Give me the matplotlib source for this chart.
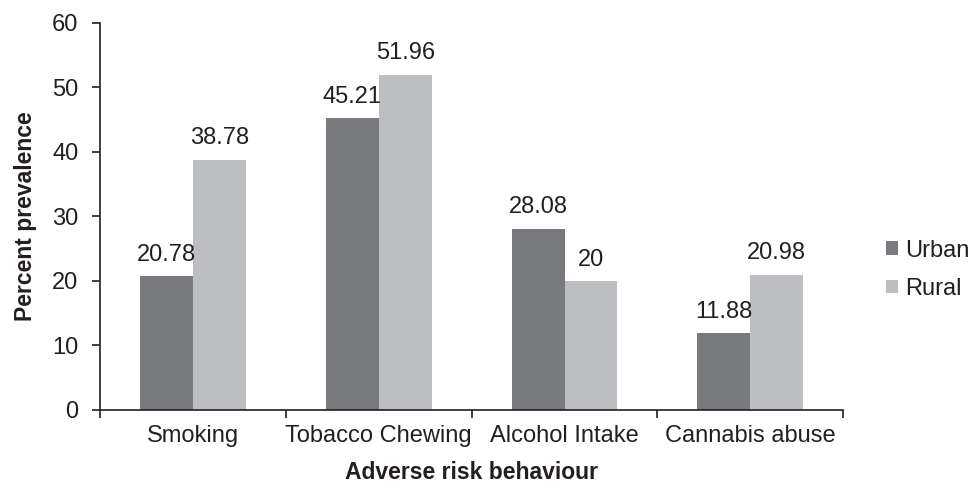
import numpy as np
import matplotlib.pyplot as plt

plt.rcParams['font.family'] = ['Liberation Sans', 'DejaVu Sans']

categories = ['Smoking', 'Tobacco Chewing', 'Alcohol Intake', 'Cannabis abuse']
urban = [20.78, 45.21, 28.08, 11.88]
rural = [38.78, 51.96, 20, 20.98]
urban_labels = ['20.78', '45.21', '28.08', '11.88']
rural_labels = ['38.78', '51.96', '20', '20.98']

txt = '#231f20'
fs = 17

fig = plt.figure(figsize=(9.69, 4.88), dpi=100)
ax = fig.add_axes([0.1032, 0.160, 0.767, 0.793])

x = np.arange(len(categories))
w = 0.285
b1 = ax.bar(x - w / 2, urban, w, color='#797a7e', label='Urban')
b2 = ax.bar(x + w / 2, rural, w, color='#bdbec2', label='Rural')

for bars, labs in ((b1, urban_labels), (b2, rural_labels)):
    for b, t in zip(bars, labs):
        ax.text(b.get_x() + b.get_width() / 2, b.get_height() + 1.6, t,
                ha='center', va='bottom', fontsize=fs, color=txt)

ax.set_xlim(-0.5, len(categories) - 0.5)
ax.set_ylim(0, 60)
ax.set_yticks(np.arange(0, 61, 10))
ax.set_xticks(x)
ax.set_xticklabels(categories)
ax.set_xticks(np.arange(-0.5, len(categories)), minor=True)
ax.tick_params(axis='x', which='major', length=0, pad=11, labelsize=fs, labelcolor=txt)
ax.tick_params(axis='x', which='minor', length=5.5, direction='out', width=1.2, color=txt)
ax.tick_params(axis='y', length=5.5, direction='out', width=1.2, pad=10, labelsize=fs,
               labelcolor=txt, color=txt)

for s in ['top', 'right']:
    ax.spines[s].set_visible(False)
for s in ['left', 'bottom']:
    ax.spines[s].set_linewidth(1.2)
    ax.spines[s].set_color(txt)

ax.set_xlabel('Adverse risk behaviour', fontsize=16.5, fontweight='bold', labelpad=10, color=txt)
ax.set_ylabel('Percent prevalence', fontsize=16.5, fontweight='bold', labelpad=11, color=txt)

ax.legend(loc='center left', bbox_to_anchor=(1.045, 0.362), frameon=False,
          fontsize=fs, handlelength=0.5, handleheight=0.5, handletextpad=0.3,
          labelspacing=0.7, borderaxespad=0)
for t in ax.get_legend().get_texts():
    t.set_color(txt)

fig.savefig('out.png', dpi=100)
